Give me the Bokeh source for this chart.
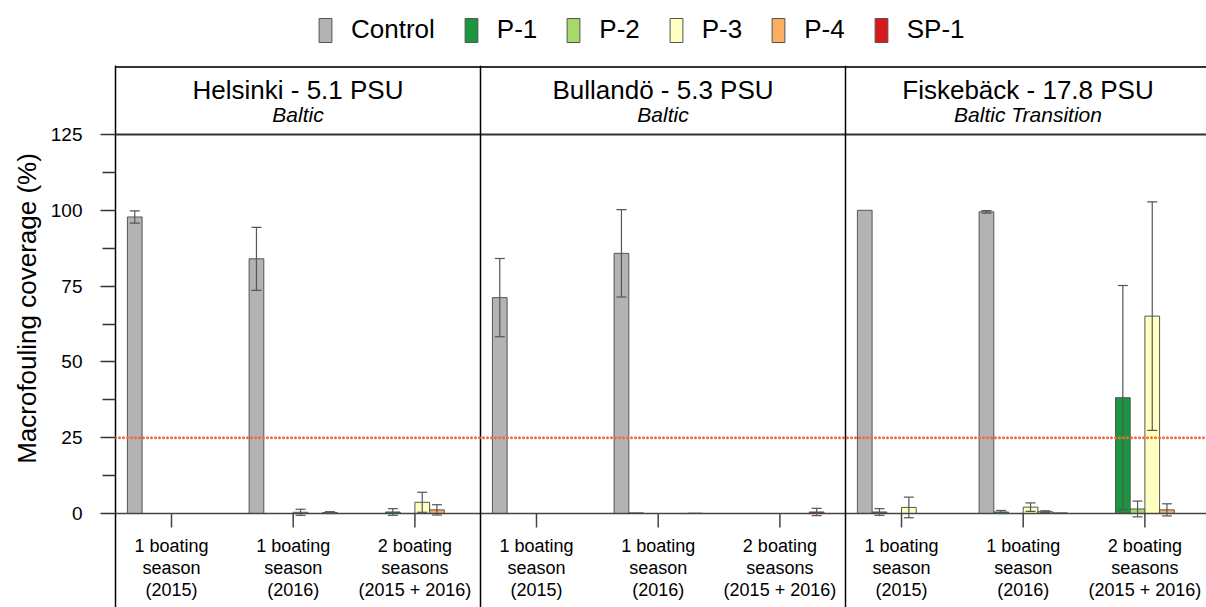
import math
from bokeh.plotting import figure
from bokeh.models import (Range1d, Span, Whisker, TeeHead, ColumnDataSource,
                          FixedTicker, Legend, LegendItem)
from bokeh.layouts import column, row
from bokeh.core.properties import value
from bokeh.embed import file_html
from bokeh.resources import INLINE

# ---------------- data ----------------
sites = ["Helsinki - 5.1 PSU", "Bullandö - 5.3 PSU", "Fiskebäck - 17.8 PSU"]
regions = ["Baltic", "Baltic", "Baltic Transition"]
periods = ["1 boating\nseason\n(2015)", "1 boating\nseason\n(2016)",
           "2 boating\nseasons\n(2015 + 2016)"]
coatings = ["Control", "P-1", "P-2", "P-3", "P-4", "SP-1"]
coating_colors = ["#B3B3B3", "#1A9641", "#A6D96A", "#FFFFBF", "#FDAE61", "#D7191C"]
y_title = "Macrofouling coverage (%)"

# mean macrofouling coverage (%) : [period][coating]
helsinki_mean = [[97.8, 0, 0, 0, 0, 0],
                 [84.0, 0, 0, 0.4, 0, 0.3],
                 [0, 0.5, 0, 3.7, 1.2, 0]]
helsinki_err = [[2.0, 0, 0, 0, 0, 0],
                [10.4, 0, 0, 1.0, 0, 0.3],
                [0, 1.1, 0, 3.3, 1.7, 0]]
bullando_mean = [[71.2, 0, 0, 0, 0, 0],
                 [85.8, 0.2, 0, 0, 0, 0.1],
                 [0, 0, 0, 0, 0, 0.5]]
bullando_err = [[12.9, 0, 0, 0, 0, 0],
                [14.4, 0, 0, 0, 0, 0],
                [0, 0, 0, 0, 0, 1.2]]
fiskeback_mean = [[100.0, 0.5, 0, 2.0, 0, 0],
                  [99.5, 0.5, 0, 2.1, 0.6, 0.2],
                  [0, 38.2, 1.5, 65.1, 1.2, 0]]
fiskeback_err = [[0, 1.1, 0, 3.4, 0, 0],
                 [0.4, 0.5, 0, 1.4, 0.3, 0],
                 [0, 37.0, 2.6, 37.7, 2.0, 0]]
threshold = 25

means = [helsinki_mean, bullando_mean, fiskeback_mean]
errs = [helsinki_err, bullando_err, fiskeback_err]

# ---------------- layout constants (pixel-like x units) ----------------
PANEL_W = 365
GROUP0 = 56
GROUP_STEP = 121.7
BAR_W = 14.7
FONT = "Liberation Sans"
W = 1206
LEG_H = 65
MAIN_H = 542
YL_W = 45
FRAME_L = 115

bx, btop, bcol = [], [], []
wx, wlo, whi = [], [], []
tick_x, tick_lab = [], []
for si in range(len(sites)):
    for g in range(len(periods)):
        center = si * PANEL_W + GROUP0 + g * GROUP_STEP
        tick_x.append(center)
        tick_lab.append(periods[g])
        for s in range(len(coatings)):
            x = center + (s - 2.5) * BAR_W
            m = means[si][g][s]
            e = errs[si][g][s]
            bx.append(x)
            btop.append(m)
            bcol.append(coating_colors[s])
            if e > 0:
                wx.append(x)
                wlo.append(m - e)
                whi.append(m + e)

# ---------------- legend figure ----------------
leg = figure(width=W, height=LEG_H, x_range=Range1d(0, W), y_range=Range1d(0, LEG_H),
             toolbar_location=None, output_backend="svg", min_border=0,
             x_axis_location=None, y_axis_location=None)
leg.grid.visible = False
leg.outline_line_color = None
items = []
for c, col in zip(coatings, coating_colors):
    r = leg.vbar(x="x", top="top", width=1, fill_color=col, line_color="#555555",
                 source=ColumnDataSource(data=dict(x=[-1000], top=[0])))
    items.append(LegendItem(label=c, renderers=[r]))
legend = Legend(items=items, orientation="horizontal", location=(317, 20),
                glyph_width=16, glyph_height=30, label_text_font=FONT,
                label_text_font_size="26px", label_text_color="black",
                label_standoff=18, spacing=28,
                padding=0, margin=0, border_line_color=None, background_fill_alpha=0,
                label_height=30)
leg.add_layout(legend)

# ---------------- main figure ----------------
PX = 3.032  # px per percent
ZERO_Y = 513 - LEG_H  # zero line, px from top of main figure
y_range = Range1d((ZERO_Y - MAIN_H) / PX, ZERO_Y / PX)
p = figure(width=W - YL_W, height=MAIN_H, x_range=Range1d(0, W - FRAME_L), y_range=y_range,
           toolbar_location=None, output_backend="svg", min_border_left=FRAME_L - YL_W,
           min_border_right=0, min_border_top=0, min_border_bottom=0,
           x_axis_location=None)
p.grid.visible = False
p.outline_line_color = None

src = ColumnDataSource(data=dict(x=bx, top=btop, color=bcol))
p.vbar(x="x", top="top", bottom=0, width=BAR_W, fill_color="color",
       line_color="#555555", line_width=1, source=src)

wsrc = ColumnDataSource(data=dict(x=wx, lower=wlo, upper=whi))
p.add_layout(Whisker(base="x", lower="lower", upper="upper", source=wsrc,
                     line_color="#555555", line_width=1.2, level="overlay",
                     upper_head=TeeHead(size=10, line_color="#555555", line_width=1.2),
                     lower_head=TeeHead(size=10, line_color="#555555", line_width=1.2)))

# zero line, header line, top border, dividers
p.add_layout(Span(location=0, dimension="width", line_color="#444444", line_width=1.5))
p.add_layout(Span(location=125, dimension="width", line_color="#333333", line_width=2))
p.add_layout(Span(location=(ZERO_Y - 1.5) / PX, dimension="width", line_color="#333333",
                  line_width=2))
for si in range(1, len(sites)):
    p.add_layout(Span(location=si * PANEL_W, dimension="height", line_color="black",
                      line_width=1.5))
p.add_layout(Span(location=threshold, dimension="width", line_color="#F26A3C",
                  line_width=3, line_dash="0 4", line_cap="round", level="overlay"))

# group ticks below the zero line
p.segment(x0=tick_x, y0=[0] * len(tick_x), x1=tick_x, y1=[-14 / PX] * len(tick_x),
          line_color="#444444", line_width=1.5)
p.text(x=tick_x, y=[-7.3] * len(tick_x), text=tick_lab, text_align="center",
       text_baseline="top", text_font=value(FONT), text_font_size="18px",
       text_line_height=1.12, text_color="black")

# panel headers
centers = [si * PANEL_W + PANEL_W / 2 for si in range(len(sites))]
p.text(x=centers, y=[(513 - 89) / PX] * 3, text=sites, text_align="center",
       text_baseline="alphabetic", text_font=value(FONT), text_font_size="26px",
       text_color="black")
p.text(x=centers, y=[(513 - 113.5) / PX] * 3, text=regions, text_align="center",
       text_baseline="alphabetic", text_font=value(FONT), text_font_size="21px",
       text_font_style="italic", text_color="black")

# y axis
ya = p.yaxis[0]
ya.ticker = FixedTicker(ticks=[0, 25, 50, 75, 100, 125],
                        minor_ticks=[12.5, 37.5, 62.5, 87.5, 112.5])
ya.major_label_text_font = FONT
ya.major_label_text_font_size = "19px"
ya.major_label_text_color = "black"
ya.major_label_standoff = 18
ya.axis_line_color = "black"
ya.axis_line_width = 1.5
ya.major_tick_out = 15
ya.major_tick_in = 0
ya.minor_tick_out = 13
ya.minor_tick_in = 0
ya.major_tick_line_color = "#333333"
ya.minor_tick_line_color = "#333333"
ya.major_tick_line_width = 1.3
ya.minor_tick_line_width = 1.3

# ---------------- y-title strip (shares the y scale) ----------------
yl = figure(width=YL_W, height=MAIN_H, x_range=Range1d(0, YL_W), y_range=y_range,
            toolbar_location=None, output_backend="svg", min_border=0,
            x_axis_location=None, y_axis_location=None)
yl.grid.visible = False
yl.outline_line_color = None
yl.text(x=[26], y=[(513 - 308) / PX], text=[y_title], angle=math.pi / 2,
        text_align="center", text_baseline="middle", text_font=value(FONT),
        text_font_size="26px", text_color="black")

layout = column(leg, row(yl, p, spacing=0), spacing=0)
open("out.html", "w").write(file_html(layout, INLINE))
